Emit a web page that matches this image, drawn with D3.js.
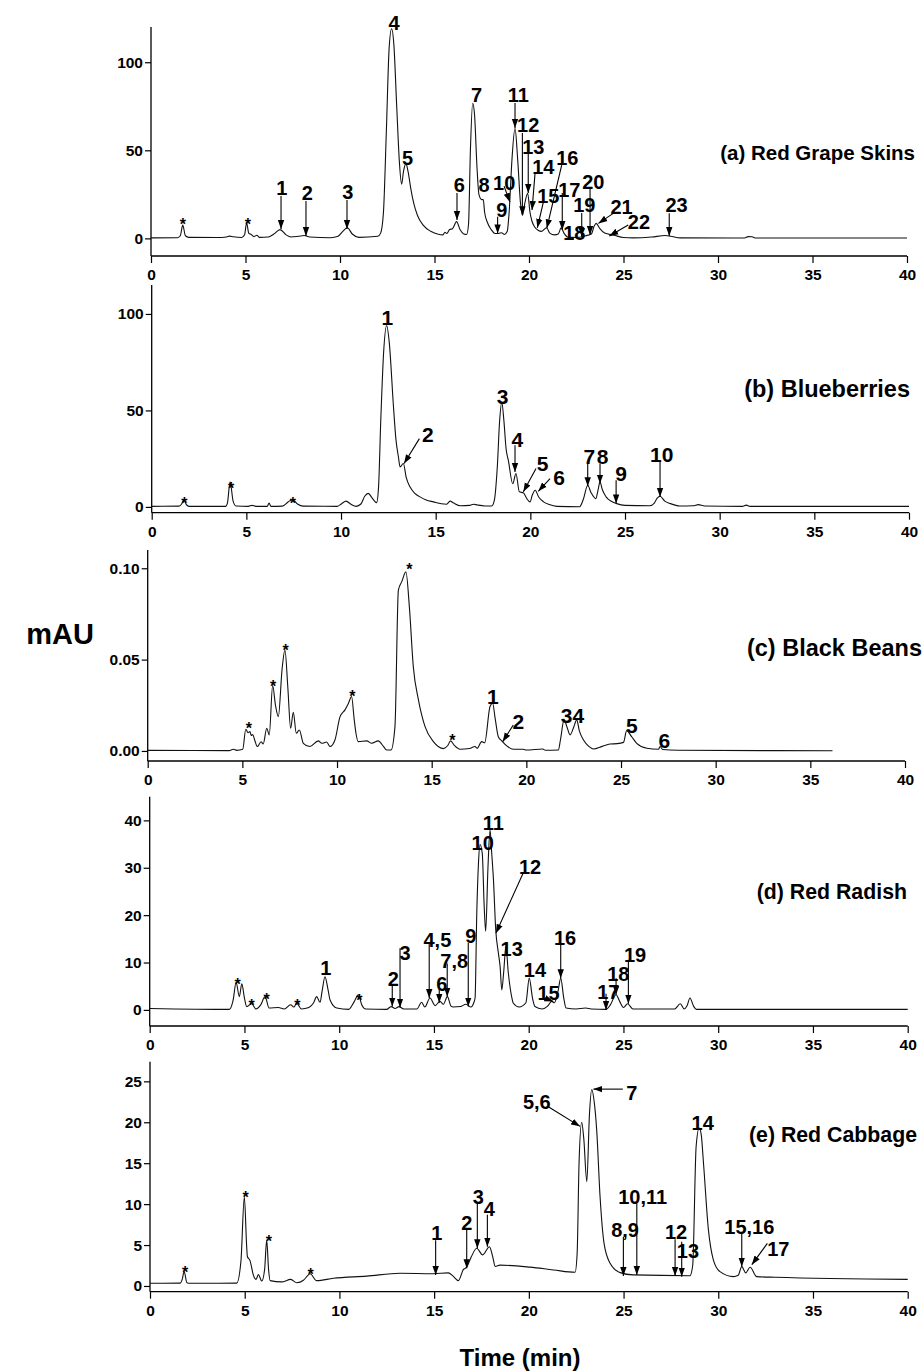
<!DOCTYPE html>
<html>
<head>
<meta charset="utf-8">
<script src="https://cdn.jsdelivr.net/npm/d3@7"></script>
<style>
  body { margin: 0; background: #fff; }
  svg { display: block; }
  text { font-family: "Liberation Sans", Arial, sans-serif; font-weight: bold; fill: #000; }
</style>
</head>
<body>
<svg id="chart" width="923" height="1371"></svg>
<script>
// ---- Chromatogram traces: [time (min), absorbance] ----
const grapeSkinsTrace = [
  [0,0.3],[1.4,0.4],[1.55,1.5],[1.68,7.5],[1.82,1.5],[2.0,0.6],[3.5,0.5],[4.0,0.8],[4.15,1.3],[4.35,0.9],
  [4.8,0.5],[4.95,2],[5.06,8.9],[5.17,3],[5.3,2.2],[5.45,1],[5.6,1.8],[5.75,0.6],[6.2,0.8],[6.5,2.5],
  [6.83,5],[7.15,2],[7.4,0.8],[7.8,1.2],[8.1,1.6],[8.4,0.8],[9.5,0.4],[9.9,1.2],[10.15,4],[10.39,6],
  [10.65,2.5],[11,0.6],[12.0,1.2],[12.15,3],[12.3,15],[12.45,60],[12.6,108],[12.73,119],[12.85,110],[13.0,75],
  [13.15,42],[13.26,30.7],[13.36,38],[13.49,42.6],[13.6,38],[13.75,28],[13.9,20],[14.1,13],[14.4,7.5],[14.8,4],
  [15.2,2.3],[15.45,2],[15.55,3.5],[15.65,2.8],[15.8,5],[15.95,5.5],[16.17,9.5],[16.35,5],[16.55,2.5],[16.7,2.2],
  [16.8,8],[16.9,50],[17.02,76.7],[17.12,70],[17.25,40],[17.35,25],[17.5,22],[17.58,22],[17.65,15],[17.8,9],
  [18.0,5],[18.2,2.8],[18.4,2.8],[18.55,3.2],[18.7,2.2],[18.85,4],[18.95,15],[19.1,45],[19.26,62.5],[19.4,45],
  [19.55,20],[19.66,13.2],[19.78,20],[19.93,25.6],[20.05,15],[20.15,10],[20.3,6.5],[20.5,4.5],[20.65,4],[20.93,6],
  [21.1,3],[21.35,2],[21.55,2.5],[21.7,6],[21.85,3],[22.05,0.7],[22.5,0.5],[23.0,1.5],[23.3,2.5],[23.45,7],
  [23.55,8.5],[23.75,5.5],[24.0,3],[24.5,1.8],[25.0,0.5],[25.5,0.3],[26.5,0.8],[27.2,1.6],[27.5,1.2],[28.0,0.3],
  [31.4,0.2],[31.6,1],[31.8,0.9],[32.0,0.2],[40,0.2]
];

const blueberriesTrace = [
  [0,0.3],[1.45,0.4],[1.58,1.5],[1.7,3.5],[1.85,1],[2.0,0.3],[3.9,0.3],[4.0,2],[4.14,13],[4.3,3],
  [4.45,0.5],[5.1,0.3],[5.3,0.8],[5.5,0.3],[6.1,0.3],[6.2,2],[6.3,0.3],[6.9,0.4],[7.2,2.5],[7.43,3.8],
  [7.7,1.5],[8.0,0.4],[9.8,0.3],[10.05,1.8],[10.26,3],[10.55,1.2],[10.8,0.3],[11.05,1.5],[11.25,5.5],[11.44,7],
  [11.65,4.5],[11.88,2.2],[11.98,10],[12.1,45],[12.25,80],[12.41,94],[12.55,85],[12.76,53.5],[12.9,35],[13.03,26],
  [13.12,20.7],[13.29,22.5],[13.45,15],[13.64,10.4],[13.9,7],[14.17,5.2],[14.5,3.6],[14.88,2.6],[15.3,1.6],[15.58,1.4],
  [15.76,3],[15.95,2],[16.3,0.6],[16.8,0.8],[17.0,1.4],[17.2,1],[17.6,0.5],[17.96,0.5],[18.1,3.5],[18.25,20],
  [18.38,45],[18.49,54.4],[18.6,45],[18.72,30],[18.84,24],[19.07,12],[19.24,17.3],[19.42,7.8],[19.63,7.3],[19.8,4.5],
  [19.98,2.6],[20.1,6],[20.25,8.6],[20.45,5],[20.7,2.6],[21.0,1.2],[21.4,0.3],[22.6,0.1],[22.8,4],[23.03,11.2],
  [23.2,7.5],[23.46,4.3],[23.58,9],[23.68,13],[23.8,9],[24.0,5.2],[24.3,2.8],[24.56,1.7],[25.0,0.8],[26.3,0.6],
  [26.55,2],[26.7,4.5],[26.85,5.5],[27.1,3],[27.4,1.7],[27.9,0.5],[28.6,0.6],[28.87,1.2],[29.2,0.5],[31.2,0.3],
  [31.4,0.9],[31.6,0.3],[40,0.3]
];

const blackBeansTrace = [
  [0,0.0003],[4.3,0.0002],[4.52,0.0009],[4.7,0.0003],[5.02,0.0009],[5.18,0.0119],[5.3,0.0100],[5.4,0.0106],[5.47,0.0085],[5.55,0.0090],
  [5.65,0.0060],[5.79,0.0024],[5.99,0.0050],[6.1,0.0038],[6.29,0.0124],[6.42,0.0088],[6.6,0.0358],[6.75,0.025],[6.9,0.0188],[7.1,0.045],
  [7.25,0.0553],[7.4,0.035],[7.55,0.0124],[7.69,0.0212],[7.85,0.0097],[8.01,0.0115],[8.22,0.0042],[8.57,0.0024],[9.01,0.0055],[9.2,0.0042],
  [9.45,0.0049],[9.63,0.0024],[9.89,0.006],[10.16,0.0188],[10.42,0.0225],[10.6,0.026],[10.77,0.0298],[10.9,0.018],[11.0,0.0097],[11.12,0.0051],
  [11.57,0.0055],[11.83,0.0042],[12.18,0.0055],[12.45,0.0025],[12.62,0.0005],[12.85,0.0005],[13.06,0.0133],[13.24,0.088],[13.42,0.0927],[13.64,0.098],
  [13.82,0.079],[14.03,0.046],[14.3,0.028],[14.65,0.0133],[15.09,0.0051],[15.62,0.0013],[15.85,0.003],[16.0,0.0055],[16.2,0.003],[16.5,0.0009],
  [17.0,0.0013],[17.29,0.0024],[17.4,0.0015],[17.64,0.0051],[17.8,0.0045],[18.08,0.0243],[18.22,0.0261],[18.35,0.018],[18.52,0.0078],[18.7,0.0055],
  [19.0,0.0025],[19.31,0.0009],[19.84,0.0009],[20.0,0.0005],[20.87,0.0011],[21.0,0.0004],[21.69,0.0005],[21.8,0.006],[21.99,0.017],[22.15,0.013],
  [22.31,0.0088],[22.5,0.013],[22.66,0.017],[22.8,0.011],[23.02,0.006],[23.3,0.0025],[23.54,0.0011],[24.0,0.0025],[24.42,0.0038],[24.8,0.004],
  [25.13,0.0047],[25.3,0.0111],[25.55,0.008],[25.83,0.0042],[26.36,0.0015],[26.98,0.0009],[27.06,0.0024],[27.2,0.0008],[28.0,0.0004],[36.17,0.0001]
];

const redRadishTrace = [
  [0,0.3],[4.2,0.1],[4.4,2],[4.56,5.8],[4.73,2.8],[4.86,5.5],[5.0,2.5],[5.12,0.7],[5.38,1.3],[5.6,0.2],
  [5.85,1],[6.09,2.8],[6.3,0.4],[6.79,0.5],[7.1,0.2],[7.44,1.1],[7.6,0.6],[7.76,1.4],[8.0,0.2],[8.4,0.5],
  [8.65,1.5],[8.81,2.8],[8.99,1.6],[9.1,4],[9.25,7],[9.4,4.5],[9.52,2.1],[9.87,0.4],[10.5,0.1],[10.8,1.8],
  [11.01,3.2],[11.2,1],[11.4,0.2],[12.5,0.1],[12.74,0.7],[12.95,0.3],[13.16,0.7],[13.4,0.2],[14.1,0.2],[14.35,1.6],
  [14.52,0.6],[14.79,2.5],[15.06,0.9],[15.32,1.8],[15.5,1.2],[15.71,2.8],[15.9,0.8],[16.02,0.6],[16.4,0.7],[16.69,1.2],
  [16.95,0.6],[17.1,1.5],[17.17,2.5],[17.26,20.4],[17.35,31],[17.43,34.9],[17.55,33],[17.65,22],[17.73,16.6],[17.85,30],
  [17.96,38],[18.05,33],[18.14,27.5],[18.26,16.9],[18.4,12],[18.49,9.2],[18.58,4.2],[18.68,8],[18.8,13.4],[18.92,8],
  [19.1,2.8],[19.19,1.4],[19.5,0.6],[19.85,1.5],[20.03,6.7],[20.2,2.5],[20.33,0.7],[20.7,0.2],[21.0,0.8],[21.21,1.8],
  [21.35,1.5],[21.55,4],[21.69,6.7],[21.85,2.5],[21.97,0.4],[22.5,0.2],[23,0.4],[23.3,0.2],[24.08,0.1],[24.3,1],
  [24.61,3.2],[24.8,1.8],[25.0,0.5],[25.22,1.3],[25.5,0.2],[27.7,0.2],[28.0,1.3],[28.2,0.2],[28.35,0.8],[28.51,2.5],
  [28.7,0.8],[28.85,0.1],[40,0.1]
];

const redCabbageTrace = [
  [0,0.33],[1.6,0.35],[1.7,0.8],[1.8,1.75],[1.95,0.4],[2.1,0.33],[4.58,0.35],[4.8,3],[4.98,10.9],[5.1,5],
  [5.14,3.6],[5.28,3.1],[5.46,1.3],[5.6,0.8],[5.72,1.4],[5.9,0.6],[6.05,2],[6.16,5.6],[6.26,2],[6.34,0.65],
  [6.95,0.5],[7.43,0.8],[7.75,0.4],[8.1,0.7],[8.36,1.35],[8.45,1.5],[8.8,0.65],[9.68,0.94],[11.44,1.2],[13.2,1.55],
  [14.96,1.5],[15.75,1.6],[16.0,1.2],[16.28,0.65],[16.54,2.0],[16.72,2.3],[16.95,3.5],[17.25,4.6],[17.56,3.8],[17.92,4.8],
  [18.1,3.5],[18.22,2.4],[18.48,2.55],[20.06,2.3],[21.3,1.96],[22.44,1.67],[22.55,4],[22.65,15],[22.79,20],[22.9,18],
  [23.06,12.75],[23.2,21],[23.32,24.0],[23.45,22.5],[23.58,19.1],[23.76,10.9],[23.97,5.2],[24.29,2.77],[24.82,1.63],[25.5,1.35],
  [28.5,1.25],[28.65,2.5],[28.83,17],[28.99,19.3],[29.1,18.5],[29.22,15],[29.48,6.85],[29.74,3.2],[30.09,1.75],[30.8,1.14],
  [31.05,1.3],[31.24,2.36],[31.45,1.6],[31.68,2.28],[32.03,1.14],[33,1.06],[40,0.81]
];

// ---- Peak labels: [text, labelTime, labelValue, arrow [t1, v1, t2, v2] or null] ----
const grapeSkinsPeaks = [
  ["*",1.69,9.8,null],["*",5.13,9.8,null],
  ["1",6.92,28.8,[6.88,24.0,6.88,5.3]],["2",8.27,25.7,[8.2,21.2,8.2,1.3]],["3",10.41,26.5,[10.37,21.8,10.37,5.3]],
  ["4",12.86,122.5,null],["5",13.58,46,null],["6",16.31,30.7,[16.19,25.7,16.19,10.4]],["7",17.23,81.4,null],["8",17.62,30.7,null],
  ["9",18.56,16.1,[18.34,12.3,18.34,2.8]],["10",18.69,31.6,[18.68,29.7,18.99,20.6]],["11",19.43,81.4,[19.26,76.9,19.26,62.7]],
  ["12",19.96,64.4,[19.65,59.8,19.65,13.2]],["13",20.23,52,[19.96,48.5,19.96,25.7]],["14",20.76,40.7,[20.32,37,20.16,16.1]],
  ["15",21.02,24,[20.76,20.6,20.44,6]],["16",22.03,46,[21.73,41.6,20.94,5.7]],["17",22.13,27.8,[21.76,25.7,21.76,4.7]],
  ["18",22.4,3.2,null],["19",22.93,18.9,[22.79,14.4,22.79,0.9]],["20",23.4,32.2,[23.23,28.6,23.23,1.9]],
  ["21",24.9,18,[24.46,14.2,23.67,8.5]],["22",25.82,9.4,[25.25,7.6,24.25,1.3]],["23",27.81,18.9,[27.42,14.2,27.42,1.3]]
];

const blueberriesPeaks = [
  ["*",1.72,3.8,null],["*",4.19,11.2,null],["*",7.45,3.8,null],
  ["1",12.45,98.4,null],["2",14.58,37.5,[14.14,35.4,13.33,22.5]],["3",18.54,57,null],
  ["4",19.31,34.9,[19.19,32,19.19,18.1]],["5",20.65,22.5,[20.3,19.9,19.63,7.8]],["6",21.52,15.5,[21.04,14.7,20.42,8.1]],
  ["7",23.12,25.9,[23.03,22.5,23.03,10.7]],["8",23.82,25.9,[23.68,22.5,23.68,12.1]],["9",24.79,17.6,[24.53,13.8,24.53,1.8]],
  ["10",26.94,27.3,[26.85,23.3,26.85,5.2]]
];

const blackBeansPeaks = [
  ["*",5.35,0.0142,null],["*",6.63,0.0374,null],["*",7.29,0.0568,null],["*",10.81,0.0319,null],
  ["*",13.82,0.1015,null],["*",16.09,0.0078,null],
  ["1",18.23,0.0297,null],["2",19.58,0.0164,[19.31,0.0142,18.75,0.0051]],["3",22.13,0.0197,null],
  ["4",22.75,0.0197,null],["5",25.57,0.0137,null],["6",27.29,0.0056,null]
];

const redRadishPeaks = [
  ["*",4.64,6.2,null],["*",5.38,1.75,null],["*",6.17,2.96,null],["*",7.79,1.75,null],["*",11.06,2.8,null],
  ["1",9.29,8.8,null],["2",12.85,6.55,[12.8,5.3,12.8,0.7]],["3",13.47,12.1,[13.21,13.0,13.21,0.5]],
  ["4,5",15.18,14.8,[14.75,14.2,14.75,2.5]],["6",15.41,5.6,[15.28,4.4,15.28,1.5]],["7,8",16.07,10.4,[15.7,9.8,15.7,2.8]],
  ["9",16.94,15.6,[16.81,14.1,16.81,0.7]],["10",17.57,35.2,null],["11",18.13,39.5,null],
  ["12",20.07,30.3,[19.71,28.9,18.27,16.2]],["13",19.1,12.8,null],["14",20.33,8.5,null],
  ["15",21.05,3.7,[20.9,2.4,21.3,1.75]],["16",21.92,15.2,[21.69,13.7,21.69,6.7]],["17",24.2,3.9,[24.08,3.4,24.08,0]],
  ["18",24.73,7.7,[24.61,6.7,24.61,3.2]],["19",25.61,11.6,[25.26,10.6,25.26,1.3]]
];

const redCabbagePeaks = [
  ["*",1.86,2.04,null],["*",5.05,11.25,null],["*",6.28,5.83,null],["*",8.48,1.87,null],
  ["1",15.14,6.44,[15.08,5.6,15.08,1.34]],["2",16.72,7.74,[16.72,6.93,16.72,2.16]],["3",17.33,10.9,[17.28,10.1,17.28,4.6]],
  ["4",17.91,9.4,[17.81,8.7,17.81,4.8]],["5,6",20.42,22.5,[21.03,21.9,22.7,19.5]],["7",25.43,23.6,[24.96,24.05,23.41,24.05]],
  ["8,9",25.08,6.85,[24.99,6.0,24.99,1.22]],["10,11",26.01,10.9,[25.7,10.1,25.7,1.34]],["12",27.77,6.6,[27.72,5.7,27.72,1.22]],
  ["13",28.4,4.3,[28.07,5.4,28.07,1.14]],["14",29.18,19.9,null],["15,16",31.64,7.25,[31.24,6.44,31.24,2.36]],
  ["17",33.17,4.49,[32.59,5.2,31.77,2.6]]
];

// ---- Axis ticks ----
const timeTicks = [0, 5, 10, 15, 20, 25, 30, 35, 40];
const timeMinorTicks = [2.5, 7.5, 12.5, 17.5, 22.5, 27.5, 32.5, 37.5];
const grapeSkinsYTicks = [0, 50, 100], grapeSkinsYMinor = [25, 75];
const blueberriesYTicks = [0, 50, 100], blueberriesYMinor = [25, 75];
const blackBeansYTicks = [0, 0.05, 0.10], blackBeansYMinor = [0.025, 0.075];
const redRadishYTicks = [0, 10, 20, 30, 40], redRadishYMinor = [5, 15, 25, 35];
const redCabbageYTicks = [0, 5, 10, 15, 20, 25], redCabbageYMinor = [2.5, 7.5, 12.5, 17.5, 22.5];

const titles = ["(a) Red Grape Skins", "(b) Blueberries", "(c) Black Beans", "(d) Red Radish", "(e) Red Cabbage"];

// ---- Panel layout ----
const panels = [
  { trace: grapeSkinsTrace, peaks: grapeSkinsPeaks, yTicks: grapeSkinsYTicks, yMinor: grapeSkinsYMinor,
    yDomain: [-10, 120], fmt: d3.format("d"), x0: 151, x1: 907, top: 27, bottom: 256,
    titleX: 915, titleY: 160, titleSize: 20.5, labelSize: 20 },
  { trace: blueberriesTrace, peaks: blueberriesPeaks, yTicks: blueberriesYTicks, yMinor: blueberriesYMinor,
    yDomain: [-3, 115], fmt: d3.format("d"), x0: 151.7, x1: 909, top: 285, bottom: 512.7,
    titleX: 910, titleY: 397, titleSize: 23.5, labelSize: 21 },
  { trace: blackBeansTrace, peaks: blackBeansPeaks, yTicks: blackBeansYTicks, yMinor: blackBeansYMinor,
    yDomain: [-0.0055, 0.110], fmt: d3.format(".2f"), x0: 147.7, x1: 905, top: 550, bottom: 761,
    titleX: 922, titleY: 656, titleSize: 23.5, labelSize: 21 },
  { trace: redRadishTrace, peaks: redRadishPeaks, yTicks: redRadishYTicks, yMinor: redRadishYMinor,
    yDomain: [-3.4, 45], fmt: d3.format("d"), x0: 149.7, x1: 907.7, top: 796.7, bottom: 1026,
    titleX: 907, titleY: 899, titleSize: 21.3, labelSize: 20 },
  { trace: redCabbageTrace, peaks: redCabbagePeaks, yTicks: redCabbageYTicks, yMinor: redCabbageYMinor,
    yDomain: [-0.7, 27.4], fmt: d3.format("d"), x0: 150, x1: 907.7, top: 1061.7, bottom: 1291.7,
    titleX: 917, titleY: 1142, titleSize: 21.3, labelSize: 20 }
];

const svg = d3.select("#chart");
svg.append("rect").attr("width", 923).attr("height", 1371).attr("fill", "#fff");

svg.append("defs").append("marker")
  .attr("id", "head")
  .attr("viewBox", "0 -4 9 8")
  .attr("refX", 9).attr("refY", 0)
  .attr("markerUnits", "userSpaceOnUse")
  .attr("markerWidth", 9).attr("markerHeight", 8)
  .attr("orient", "auto")
  .append("path").attr("d", "M0,-3.2L9,0L0,3.2Z").attr("fill", "#000");

const STAR_SIZE = 16, TICK_SIZE = 15.5;

panels.forEach((p, i) => {
  const x = d3.scaleLinear().domain([0, 40]).range([p.x0, p.x1]);
  const y = d3.scaleLinear().domain(p.yDomain).range([p.bottom, p.top]);
  const g = svg.append("g");

  // x axis
  const xAxis = g.append("g").attr("transform", `translate(0,${p.bottom})`);
  xAxis.call(d3.axisBottom(x).tickValues(timeMinorTicks).tickSize(4).tickFormat(""));
  xAxis.call(d3.axisBottom(x).tickValues(timeTicks).tickSize(7).tickPadding(6).tickFormat(d3.format("d")));
  xAxis.selectAll(".domain").attr("d", `M${p.x0},0H${p.x1}`);

  // y axis
  const yAxis = g.append("g").attr("transform", `translate(${p.x0},0)`);
  yAxis.call(d3.axisLeft(y).tickValues(p.yMinor).tickSize(3.5).tickFormat(""));
  yAxis.call(d3.axisLeft(y).tickValues(p.yTicks).tickSize(6).tickPadding(2).tickFormat(p.fmt));
  yAxis.selectAll(".domain").attr("d", `M0,${p.top}V${p.bottom}`);

  g.selectAll(".domain").attr("stroke", "#000").attr("stroke-width", 1.3);
  g.selectAll(".tick line").attr("stroke", "#000").attr("stroke-width", 1.2);
  g.selectAll(".tick text")
    .style("font-family", '"Liberation Sans", Arial, sans-serif')
    .style("font-weight", "bold").style("font-size", TICK_SIZE + "px").attr("fill", "#000");

  // trace
  const line = d3.line().x(d => x(d[0])).y(d => y(d[1])).curve(d3.curveMonotoneX);
  g.append("path").datum(p.trace)
    .attr("d", line).attr("fill", "none").attr("stroke", "#111").attr("stroke-width", 1.1)
    .attr("stroke-linejoin", "round");

  // arrows
  g.selectAll("line.arrow").data(p.peaks.filter(d => d[3]))
    .join("line").attr("class", "arrow")
    .attr("x1", d => x(d[3][0])).attr("y1", d => y(d[3][1]))
    .attr("x2", d => x(d[3][2])).attr("y2", d => y(d[3][3]))
    .attr("stroke", "#000").attr("stroke-width", 1.1)
    .attr("marker-end", "url(#head)");

  // peak labels (positioned by glyph centre)
  g.selectAll("text.peak").data(p.peaks)
    .join("text").attr("class", "peak")
    .attr("text-anchor", "middle")
    .style("font-size", d => (d[0] === "*" ? STAR_SIZE : p.labelSize) + "px")
    .attr("x", d => x(d[1]))
    .attr("y", d => y(d[2]) + (d[0] === "*" ? 0.57 * STAR_SIZE : 0.36 * p.labelSize))
    .text(d => d[0]);

  // panel title
  g.append("text")
    .attr("x", p.titleX).attr("y", p.titleY)
    .attr("text-anchor", "end")
    .style("font-size", p.titleSize + "px")
    .text(titles[i]);
});

svg.append("text").attr("x", 60).attr("y", 644).attr("text-anchor", "middle")
  .style("font-size", "29px").text("mAU");
svg.append("text").attr("x", 520).attr("y", 1366).attr("text-anchor", "middle")
  .style("font-size", "24px").text("Time (min)");
</script>
</body>
</html>
